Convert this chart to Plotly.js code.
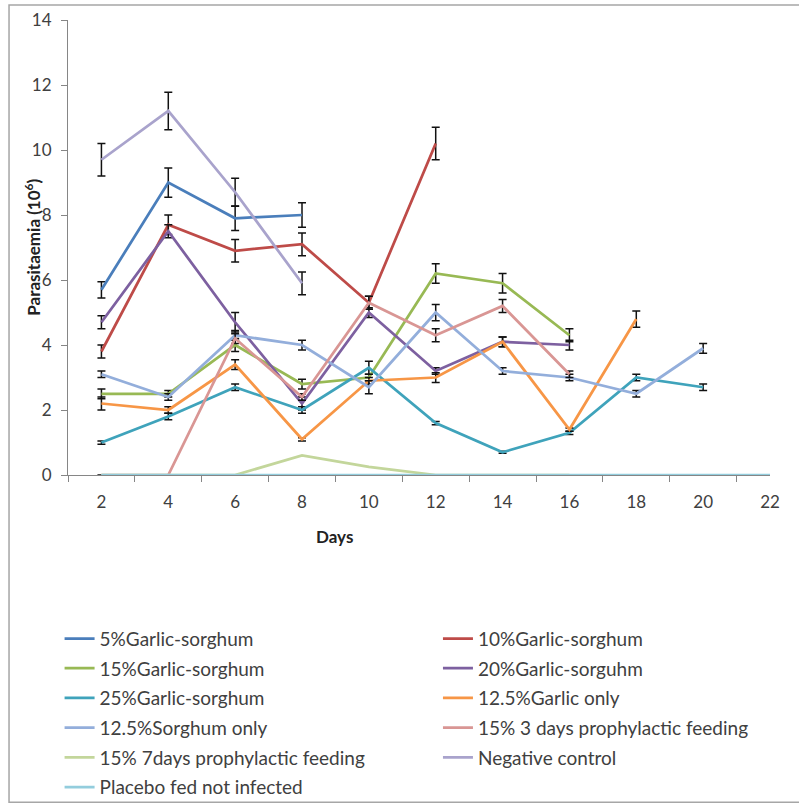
<!DOCTYPE html>
<html>
<head>
<meta charset="utf-8">
<script src="https://cdn.plot.ly/plotly-3.0.1.min.js"></script>
<style>
html,body{margin:0;padding:0;background:#fff;}
#chart{width:799px;height:806px;}
</style>
</head>
<body>
<div id="chart"></div>
<script>
// ---- data ----
const days = [2, 4, 6, 8, 10, 12, 14, 16, 18, 20, 22];
const dayLabels = ["2", "4", "6", "8", "10", "12", "14", "16", "18", "20", "22"];

const names = [
  "5%Garlic-sorghum", "10%Garlic-sorghum", "15%Garlic-sorghum", "20%Garlic-sorguhm",
  "25%Garlic-sorghum", "12.5%Garlic only", "12.5%Sorghum only",
  "15% 3 days prophylactic feeding", "15% 7days prophylactic feeding",
  "Negative control", "Placebo fed not infected"
];

const garlic5 = [5.7, 9.0, 7.9, 8.0];
const garlic5Err = [0.25, 0.45, 0.38, 0.38];
const garlic10 = [3.8, 7.7, 6.9, 7.1, 5.3, 10.2];
const garlic10Err = [0.2, 0.3, 0.35, 0.35, 0.2, 0.5];
const garlic15 = [2.5, 2.5, 4.0, 2.8, 3.0, 6.2, 5.9, 4.3];
const garlic15Err = [0.15, 0.1, 0.2, 0.15, 0.1, 0.3, 0.3, 0.2];
const garlic20 = [4.7, 7.5, 4.7, 2.2, 5.0, 3.2, 4.1, 4.0];
const garlic20Err = [0.2, 0.2, 0.3, 0.2, 0.15, 0.1, 0.15, 0.15];
const garlic25 = [1.0, 1.8, 2.7, 2.0, 3.3, 1.6, 0.7, 1.3, 3.0, 2.7];
const garlic25Err = [0.05, 0.1, 0.1, 0.1, 0.2, 0.05, 0.03, 0.05, 0.1, 0.1];
const garlicOnly = [2.2, 2.0, 3.4, 1.1, 2.9, 3.0, 4.1, 1.4, 4.8];
const garlicOnlyErr = [0.2, 0.1, 0.15, 0.05, 0.1, 0.15, 0.15, 0.05, 0.25];
const sorghumOnly = [3.1, 2.4, 4.3, 4.0, 2.7, 5.0, 3.2, 3.0, 2.5, 3.9];
const sorghumOnlyErr = [0.1, 0.1, 0.15, 0.15, 0.2, 0.25, 0.1, 0.1, 0.1, 0.15];
const proph3 = [0, 0, 4.2, 2.4, 5.3, 4.3, 5.2, 3.1];
const proph3Err = [null, null, 0.15, 0.1, 0.2, 0.2, 0.2, 0.1];
const proph7 = [0, 0, 0, 0.6, 0.25, 0, 0, 0];
const negControl = [9.7, 11.2, 8.7, 5.9];
const negControlErr = [0.5, 0.58, 0.43, 0.35];
const placebo = [0, 0, 0, 0, 0, 0, 0, 0, 0, 0, 0];

const yTickVals = [0, 2, 4, 6, 8, 10, 12, 14];
const xTitle = "<b>Days</b>";
const yTitle = "<b>Parasitaemia (10<sup>6</sup>)</b>";

// ---- styling ----
const colors = ["#4a7ebb", "#be4b48", "#98b954", "#7d60a0", "#3fa3bb", "#f79646",
                "#93aedb", "#d99694", "#c3d69b", "#a9a3cc", "#93cddd"];
const series = [garlic5, garlic10, garlic15, garlic20, garlic25, garlicOnly, sorghumOnly,
                proph3, proph7, negControl, placebo];
const errs = [garlic5Err, garlic10Err, garlic15Err, garlic20Err, garlic25Err, garlicOnlyErr,
              sorghumOnlyErr, proph3Err, null, negControlErr, null];

const FONT = "Lato, 'Open Sans', sans-serif";
const TXT = "#404040";

const traces = series.map((vals, i) => {
  const t = {
    type: "scatter",
    mode: "lines",
    x: days.slice(0, vals.length),
    y: vals,
    name: names[i],
    line: {color: colors[i], width: 2.75},
    legendgroup: "g" + i,
    legend: (i % 2 === 0) ? "legend" : "legend2",
    hoverinfo: "x+y+name"
  };
  if (errs[i]) {
    t.error_y = {type: "data", array: errs[i], visible: true, color: "#111",
                 thickness: 1.5, width: 4};
  }
  return t;
});

const legendCommon = {
  orientation: "v",
  font: {family: FONT, size: 19, color: TXT},
  bgcolor: "rgba(0,0,0,0)",
  borderwidth: 0,
  tracegroupgap: 2,
  itemwidth: 30,
  xanchor: "left",
  yanchor: "top"
};

const layout = {
  width: 799,
  height: 806,
  margin: {l: 68, r: 29, t: 20, b: 331, autoexpand: false},
  paper_bgcolor: "#fff",
  plot_bgcolor: "#fff",
  font: {family: FONT, color: TXT},
  showlegend: true,
  legend: Object.assign({}, legendCommon, {x: -0.012, y: -0.318}),
  legend2: Object.assign({}, legendCommon, {x: 0.527, y: -0.318}),
  xaxis: {
    range: [1, 22],
    tickmode: "array",
    tickvals: days,
    ticktext: dayLabels,
    ticks: "",
    showline: true,
    linecolor: "#868686",
    linewidth: 1,
    showgrid: false,
    zeroline: false,
    tickfont: {family: FONT, size: 17, color: TXT},
    ticklabelstandoff: 12,
    minor: {tick0: 1, dtick: 2, ticks: "outside", ticklen: 6, tickcolor: "#868686", tickwidth: 1, showgrid: false}
  },
  yaxis: {
    range: [0, 14],
    tickmode: "array",
    tickvals: yTickVals,
    ticks: "outside",
    ticklen: 6,
    tickcolor: "#868686",
    showline: true,
    linecolor: "#868686",
    linewidth: 1,
    showgrid: false,
    zeroline: false,
    tickfont: {family: FONT, size: 17, color: TXT},
    ticklabelstandoff: 6
  },
  annotations: [
    {text: xTitle, xref: "paper", yref: "paper", x: 0.38, y: -0.136,
     xanchor: "center", yanchor: "middle", showarrow: false,
     font: {family: FONT, size: 17, color: "#222"}},
    {text: yTitle, xref: "paper", yref: "paper", x: -0.051, y: 0.5,
     xanchor: "center", yanchor: "middle", textangle: -90, showarrow: false,
     font: {family: FONT, size: 17, color: "#222"}}
  ],
  shapes: [{
    type: "rect", xref: "paper", yref: "paper",
    x0: -0.084, x1: 1.06, y0: -0.719, y1: 1.033,
    line: {color: "#a6a6a6", width: 1.5}, fillcolor: "rgba(0,0,0,0)", layer: "below"
  }]
};

Plotly.newPlot("chart", traces, layout, {displayModeBar: false, staticPlot: true});
</script>
</body>
</html>
